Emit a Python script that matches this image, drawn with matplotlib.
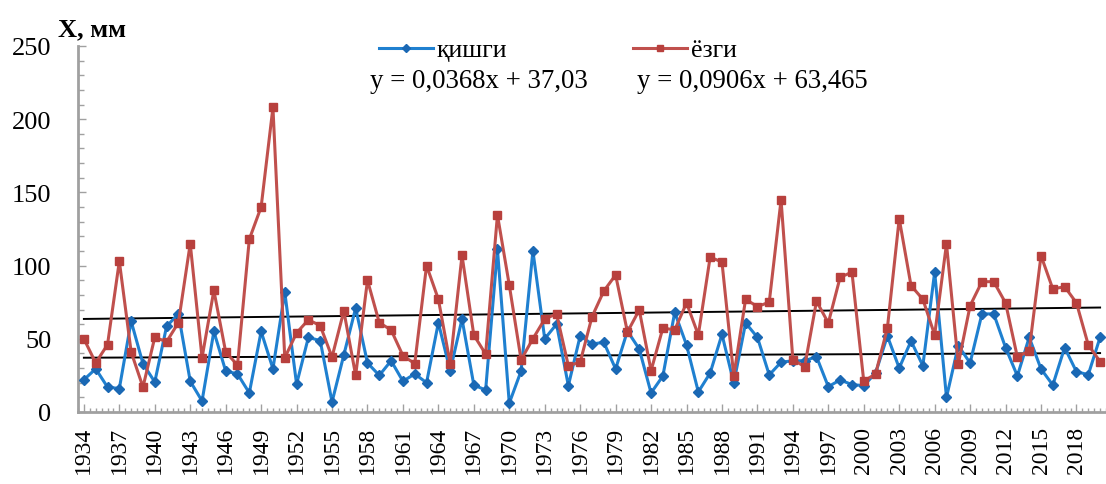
import matplotlib
matplotlib.use("Agg")
import matplotlib.pyplot as plt
from matplotlib.ticker import MultipleLocator
import numpy as np

years = np.arange(1934, 2021)

# қишги (winter) precipitation, mm
winter = [22, 29.5, 17, 16, 62, 33, 20.5, 58.5, 67, 21,
          7.5, 55, 28, 26, 13, 55, 29.5, 82, 19, 51,
          48.7, 6.8, 39, 71, 33.5, 25, 35, 21, 26, 20,
          61, 28, 63.5, 18.4, 15, 111, 6, 28, 110, 50,
          60, 18, 52, 46.4, 47.6, 29.4, 55.3, 43, 13, 24.6,
          68, 45.8, 13.7, 26.6, 53, 19.8, 60.8, 51, 25.3, 34,
          35, 35, 37.8, 17.3, 21.9, 18.7, 18, 26.6, 51.9, 30,
          48.5, 31.6, 95.6, 10, 45.3, 33.5, 67, 67, 44, 24.6,
          51, 29.4, 18.4, 44, 27.5, 25.5, 51]

# ёзги (summer) precipitation, mm
summer = [50, 33.5, 46, 103, 41, 17, 51, 48, 61, 115,
          37, 83, 41, 32, 118, 140, 208, 37, 54, 63,
          59, 37.5, 69, 25, 90, 61, 56, 38.5, 33, 100,
          77, 33, 107, 52.5, 39.6, 134.6, 86.7, 35.7, 50, 63.5,
          67, 31.6, 34, 65, 82.6, 93.6, 54.6, 69.7, 28.2, 57.4,
          56, 74.5, 52.6, 105.8, 102.4, 24.6, 77, 72, 75, 144.8,
          35.7, 31, 75.7, 60.8, 92, 95.5, 21, 26, 57.4, 132,
          86.3, 77, 52.6, 114.8, 32.8, 72.6, 89, 89, 74.5, 37.5,
          41.9, 106.8, 84, 85.6, 74.5, 45.8, 34.4]

# linear trends (x = 1, 2, ... number of year)
winter_trend = (0.0368, 37.03)
summer_trend = (0.0906, 63.465)
winter_label = "қишги"
summer_label = "ёзги"
winter_eq = "y = 0,0368x + 37,03"
summer_eq = "y = 0,0906x + 63,465"

blue = "#1f80d0"
red = "#c0504d"
serif = ["Liberation Serif", "DejaVu Serif"]
plt.rcParams["font.family"] = serif

fig = plt.figure(figsize=(11.06, 4.85), dpi=100)
ax = fig.add_axes([0.0705, 0.1485, 0.9295, 0.7546])

lw, = ax.plot(years, winter, color=blue, lw=2.2, marker="D", ms=5,
              mfc="#1a68b4", mec="#1a68b4", label=winter_label, clip_on=False, zorder=3)
ls, = ax.plot(years, summer, color=red, lw=2.2, marker="s", ms=5.5,
              mfc="#b8403d", mec="#b8403d", label=summer_label, clip_on=False, zorder=3)

n = np.arange(1, len(years) + 1)
ax.plot(years, winter_trend[0] * n + winter_trend[1], color="black", lw=1.4, zorder=2)
ax.plot(years, summer_trend[0] * n + summer_trend[1], color="black", lw=1.4, zorder=2)

ax.set_xlim(1933.6, 2020.1)
ax.set_ylim(0, 250)
ax.yaxis.set_major_locator(MultipleLocator(50))
ax.yaxis.set_minor_locator(MultipleLocator(10))
ax.set_xticks(years[::3])
ax.set_xticks(np.arange(1933.5, 2020.6, 0.5), minor=True)
ax.set_xticklabels([str(y) for y in years[::3]], rotation=90)

for s in ["top", "right"]:
    ax.spines[s].set_visible(False)
for s in ["left", "bottom"]:
    ax.spines[s].set_color("#a0a0a0")
    ax.spines[s].set_linewidth(2)

ax.tick_params(axis="both", which="both", direction="in", color="#a0a0a0", width=1)
ax.tick_params(axis="y", which="major", length=6, labelsize=19, pad=19)
ax.tick_params(axis="y", which="minor", length=4)
ax.tick_params(axis="x", which="major", length=6, labelsize=17, pad=10)
ax.tick_params(axis="x", which="minor", length=3)

fig.text(0.052, 1 - 30 / 485, "X, мм", fontsize=19, fontweight="bold", va="center", ha="left")

for h, x0 in [(lw, 379), (ls, 633)]:
    fig.legend(handles=[h], loc="center left", bbox_to_anchor=(x0 / 1106, 1 - 51 / 485),
               frameon=False, fontsize=18.5, handlelength=2.1, handletextpad=0.15,
               borderpad=0, borderaxespad=0, markerscale=0.8)
fig.text(370 / 1106, 1 - 82 / 485, winter_eq, fontsize=19.3, va="center", ha="left")
fig.text(637 / 1106, 1 - 82 / 485, summer_eq, fontsize=19.3, va="center", ha="left")

fig.savefig("out.png", dpi=100)
